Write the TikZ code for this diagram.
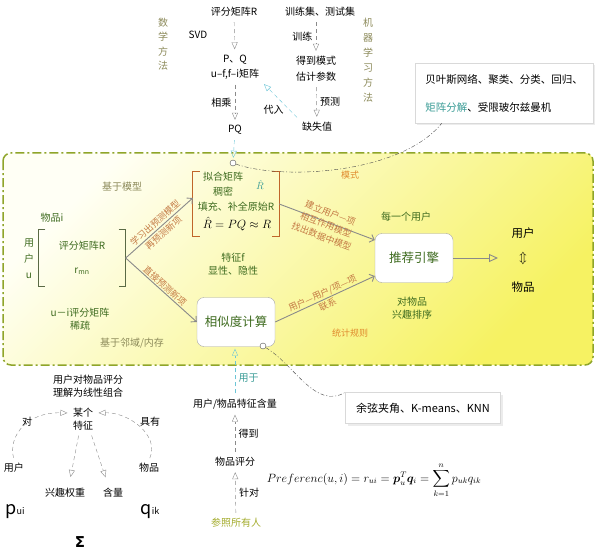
\documentclass[tikz,border=0pt]{standalone}
\usepackage{amsmath,bm}
\usepackage[no-math]{fontspec}
\setmainfont{Noto Sans CJK SC}
\newfontfamily\djv{DejaVu Sans}
\usetikzlibrary{arrows.meta,shadows}
\definecolor{grn}{HTML}{3E6B1F}
\definecolor{olv}{HTML}{8C8A5A}
\definecolor{brn}{HTML}{C47A45}
\definecolor{org}{HTML}{E08A2E}
\definecolor{bgr}{HTML}{8FA52A}
\definecolor{tealc}{HTML}{3A9C96}
\definecolor{cyn}{HTML}{6CC5D6}
\definecolor{agray}{HTML}{8A8A8A}
\definecolor{obrk}{HTML}{C0652A}
\definecolor{mbrk}{HTML}{5A6A45}
\definecolor{ylw}{HTML}{A4AC2E}
\definecolor{ylo}{HTML}{F6F262}
\begin{document}
\begin{tikzpicture}[x=1pt,y=-1pt,font=\fontsize{10}{13}\selectfont,
  gtxt/.style={text=grn},
  otxt/.style={text=olv},
  lbl/.style={text=brn,font=\fontsize{9}{12.5}\selectfont,align=center,inner sep=1pt},
  dsh/.style={draw=agray,dash pattern=on 4pt off 3pt,shorten <=2pt,shorten >=2pt,
    -{Triangle[open,length=7pt,width=6pt]}},
  cdsh/.style={dsh,draw=cyn},
  garr/.style={draw=agray,line width=0.9pt,-{Straight Barb[length=4pt,width=8pt]}},
  dd/.style={draw=black!70,dash pattern=on 4pt off 2pt on 1pt off 2pt},
  brk/.style={draw=mbrk,line width=1.2pt},
  rbox/.style={draw=gray!70,rounded corners=7pt,fill=white,text=grn,
    font=\fontsize{12.5}{14}\selectfont,minimum width=78,minimum height=49},
  wbox/.style={draw=gray!30,fill=white,
    drop shadow={opacity=0.15,shadow xshift=2pt,shadow yshift=-2pt}},
  circ/.style={circle,draw=black!70,fill=white,inner sep=0pt,minimum size=6pt}]
\useasboundingbox (0,0) rectangle (596,556);

% top: two ways to the missing values
\node (R) at (234,12) {评分矩阵R};
\node (train) at (320,12) {训练集、测试集};
\node[otxt,align=center,font=\fontsize{10}{14.5}\selectfont] (math) at (163,44) {数\\学\\方\\法};
\node[otxt,align=center,font=\fontsize{10}{15}\selectfont] (ml) at (368,60) {机\\器\\学\\习\\方\\法};
\node (svd) at (198,35) {SVD};
\node[align=center,font=\fontsize{10}{15}\selectfont] (pq1) at (235,67) {P、Q\\u–f,f–i矩阵};
\node[align=center,font=\fontsize{10}{16}\selectfont] (mode) at (316,69) {得到模式\\估计参数};
\node (miss) at (317,127) {缺失值};
\node (pq) at (235,130) {PQ};
\draw[dsh] (R) -- (pq1);
\draw[dsh] (pq1) -- node[left] {相乘} (pq);
\draw[dsh] (mode.north |- train.south) -- node[left] {训练} (mode);
\draw[dsh] (mode) -- node[right] {预测} (miss);
\draw[cdsh] (miss.north west) -- node[pos=0.4,below left=-3pt] {代入} (pq1.south east);

\node[wbox,minimum width=178,minimum height=60,align=left,font=\fontsize{10.5}{28}\selectfont] (algo) at (504,93)
  {贝叶斯网络、聚类、分类、回归、\\\textcolor{tealc}{矩阵分解}、受限玻尔兹曼机};

% yellow region
\shade[draw=bgr,line width=1.5pt,dash pattern=on 9pt off 3pt on 2pt off 3pt,rounded corners=8pt,
  top color=yellow!4,bottom color=ylo,shading angle=45] (3,153) rectangle (593,365);

\node[otxt] (mdl) at (122,187) {基于模型};
\node[otxt] (nbr) at (132,343) {基于邻域/内存};
\node[gtxt] (itm) at (52,218) {物品i};
\node[gtxt,align=center,font=\fontsize{10}{16}\selectfont] (usr) at (29,259) {用\\户\\u};
\node[gtxt,align=center,minimum width=87,minimum height=57,font=\fontsize{10}{24}\selectfont] (mat) at (82,258)
  {评分矩阵R\\r\textsubscript{mn}};
\draw[brk] ([xshift=7pt]mat.north west) -- (mat.north west) -- (mat.south west) -- ([xshift=7pt]mat.south west);
\draw[brk] ([xshift=-7pt]mat.north east) -- (mat.north east) -- (mat.south east) -- ([xshift=-7pt]mat.south east);
\node[gtxt,align=center] (sparse) at (80,319) {u－i评分矩阵\\稀疏};

\node[minimum width=86,minimum height=65] (fit) at (236,204) {};
\draw[brk,draw=obrk] ([xshift=7pt]fit.north west) -- (fit.north west) -- (fit.south west) -- ([xshift=7pt]fit.south west);
\draw[brk,draw=obrk] ([xshift=-7pt]fit.north east) -- (fit.north east) -- (fit.south east) -- ([xshift=-7pt]fit.south east);
\node[gtxt] (fit1) at (223,177) {拟合矩阵};
\node[text=tealc,inner sep=1pt] (rhat) at (260,185) {$\hat R$};
\node[gtxt] (fit2) at (223,192) {稠密};
\node[gtxt] (fit3) at (236,207) {填充、补全原始R};
\node[font=\fontsize{12}{14}\selectfont] (fit4) at (237,224) {$\hat R = PQ \approx R$};
\node[circ] (c1) at (233,163) {};
\draw[cdsh] (pq) -- (c1);
\draw[dd] (c1) .. controls (280,180) and (400,175) .. ([xshift=27pt]algo.south west);

\node[text=org,font=\fontsize{9}{11}\selectfont] (mode2) at (350,175) {模式};
\node[text=org,font=\fontsize{9}{11}\selectfont] (stat) at (350,333) {统计规则};
\node[gtxt,align=center] (featf) at (233,264) {特征f\\显性、隐性};

\node[rbox] (eng) at (414,258) {推荐引擎};
\node[rbox] (sim) at (236,322) {相似度计算};
\node[gtxt] (every) at (406,217) {每一个用户};
\node[gtxt,align=center] (rank) at (412,308) {对物品\\兴趣排序};
\node[font=\fontsize{11.5}{13}\selectfont] (u2) at (523,233) {用户};
\node[font=\fontsize{11.5}{13}\selectfont] (ud) at (523,258) {$\Updownarrow$};
\node[font=\fontsize{11.5}{13}\selectfont] (i2) at (523,287) {物品};
\coordinate (eend) at (498,258);
\draw[draw=agray,line width=0.9pt,-{Triangle[open,length=9pt,width=8pt]}] (eng) -- (eend);

\draw[garr] (mat.east) -- ([yshift=6pt]fit.west) node[lbl,midway,sloped] {学习出预测模型\\再预测新项};
\draw[garr] (mat.east) -- (sim.west) node[lbl,midway,sloped,above] {直接预测新项};
\draw[garr] (fit.east) -- ([yshift=18pt]eng.west) node[lbl,midway,sloped,above=-21pt] {建立用户—项\\相互作用模型\\找出数据中模型};
\draw[garr] (sim.east) -- ([yshift=-18pt]eng.west) node[lbl,midway,sloped] {用户—用户/项—项\\联系};

\node[circ] (c2) at (263,346) {};
\node[wbox,minimum width=155,minimum height=31,font=\fontsize{11}{13}\selectfont] (cos) at (423,408) {余弦夹角、K-means、KNN};
\draw[dd] (c2) .. controls (295,365) and (315,410) .. (cos.north west);

% bottom middle
\node (feat) at (235,404) {用户/物品特征含量};
\node (rate) at (235,462) {物品评分};
\node[text=ylw] (all) at (236,523) {参照所有人};
\draw[cdsh] (feat) -- (feat |- sim.south) node[pos=0.35,right,text=tealc] {用于};
\draw[dsh] (rate) -- node[right] {得到} (feat);
\draw[dsh] (all) -- node[right] {针对} (rate);
\node[font=\fontsize{12}{14}\selectfont] (pref) at (374,480)
  {$Preferenc(u,i)=r_{ui}=\bm{p}_u^{T}\bm{q}_i=\displaystyle\sum_{k=1}^{n}p_{uk}q_{ik}$};

% bottom left
\node[align=center] (lin) at (88,386) {用户对物品评分\\理解为线性组合};
\node[align=center] (fk) at (83,419) {某个\\特征};
\node (u3) at (14,468) {用户};
\node (i3) at (149,468) {物品};
\node (dui) at (27,422) {对};
\node (has) at (150,422) {具有};
\node (w) at (65,493) {兴趣权重};
\node (cnt) at (113,493) {含量};
\node (pui) at (15,512) {{\fontsize{18}{18}\selectfont p}{\fontsize{9}{9}\selectfont ui}};
\node (qik) at (150,512) {{\fontsize{18}{18}\selectfont q}{\fontsize{9}{9}\selectfont ik}};
\node (sig) at (80,542) {\djv\bfseries\fontsize{15}{15}\selectfont Σ};
\draw[dsh] (u3.north) .. controls (8,435) and (28,412) .. ([yshift=6pt]fk.west);
\draw[dsh] (i3.north) .. controls (160,435) and (128,412) .. ([yshift=6pt]fk.east);
\draw[dsh,shorten >=8pt] ([xshift=-4pt]fk.south) -- ([xshift=4pt]w.north);
\draw[dsh,shorten >=8pt] ([xshift=8pt]fk.south) -- ([xshift=-5pt]cnt.north);
\end{tikzpicture}
\end{document}
